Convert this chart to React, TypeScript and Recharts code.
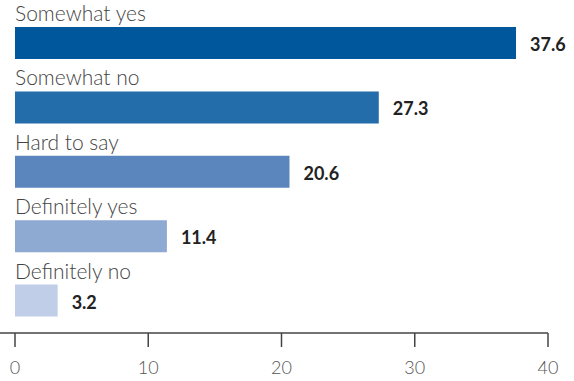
import { Bar, BarChart, Cell, LabelList, XAxis, YAxis } from "recharts";

const categories = ["Somewhat yes", "Somewhat no", "Hard to say", "Definitely yes", "Definitely no"];
const values = [37.6, 27.3, 20.6, 11.4, 3.2];
const colors = ["#01579b", "#226daa", "#5a86bd", "#8ea9d2", "#c1cee7"];
const xTicks = [0, 10, 20, 30, 40];

const data = categories.map((name, i) => ({ name, value: values[i] }));

const FONT = "Lato, 'Open Sans', sans-serif";

function NameLabel(props: any) {
  const { x, y, value } = props;
  return (
    <text x={x} y={y - 6} fill="#444" fontSize={21} fontWeight={300} fontFamily={FONT}>
      {value}
    </text>
  );
}

function ValueLabel(props: any) {
  const { x, y, width, height, value } = props;
  return (
    <text
      x={x + width + 14}
      y={y + height / 2 + 8}
      fill="#222"
      fontSize={18}
      fontWeight={700}
      fontFamily={FONT}
    >
      {value}
    </text>
  );
}

export default function App() {
  return (
    <div style={{ position: "absolute", left: 0, top: 0 }}>
      <BarChart
        width={574}
        height={381}
        data={data}
        layout="vertical"
        margin={{ top: 11, right: 26, bottom: 0, left: 0 }}
        barSize={32}
      >
        <XAxis
          type="number"
          domain={[0, 40]}
          ticks={xTicks}
          padding={{ left: 15, right: 0 }}
          height={48}
          axisLine={{ stroke: "#444", strokeWidth: 1.5 }}
          tickLine={{ stroke: "#444", strokeWidth: 1.5 }}
          tickSize={14}
          tickMargin={14}
          tick={{ fill: "#555", fontSize: 18, fontWeight: 300, fontFamily: FONT }}
        />
        <YAxis type="category" dataKey="name" hide />
        <Bar dataKey="value" isAnimationActive={false}>
          {data.map((d, i) => (
            <Cell key={d.name} fill={colors[i]} />
          ))}
          <LabelList dataKey="name" content={NameLabel} />
          <LabelList dataKey="value" content={ValueLabel} />
        </Bar>
      </BarChart>
    </div>
  );
}
